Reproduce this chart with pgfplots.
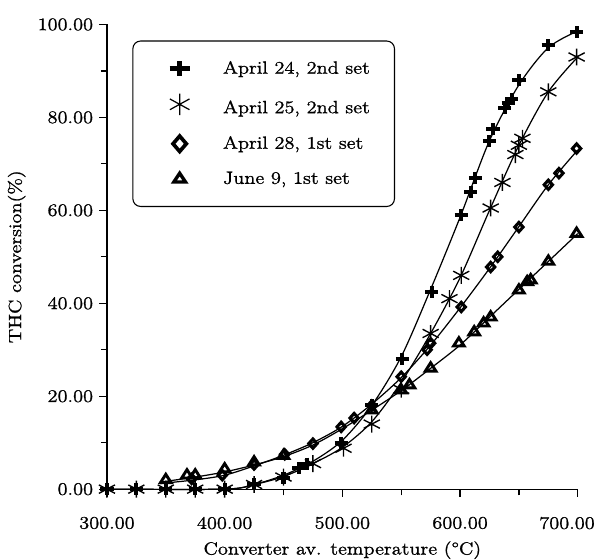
\documentclass[border=0pt]{standalone}
\usepackage{fontspec}
\setmainfont{Latin Modern Roman}[FakeStretch=1.15, FakeBold=1.2]
\usepackage{pgfplots}
\pgfplotsset{compat=1.18}
\pgfplotsset{legimg/.style={legend image code/.code={\path (0pt,0pt) (39pt,0pt); \draw[##1] plot coordinates {(12.6pt,#1)};}}}

\pgfplotstableread{
x y
300 0
325 0
350 0
375 0
400 0
425 1
450 2.5
463 4.5
470 5.5
499 10
525 18
551 28
576 42.5
601 59
609 64
613 67
625 75
628 77.5
638 82
641 83
644 84
650 88
675 95.5
699 98.3
}\aprAA
\pgfplotstableread{
x y
300 0
325 0
350 0
375 0
400 0
425 1
450 2.6
475 5.5
501 8.8
525 14
550 21.5
575 33.5
591 41
601 46
626 60.5
636 66
647 72
650 74
653 75.5
675 85.5
699 93
}\aprBB
\pgfplotstableread{
x y
372 2.2
398 3
425 5.3
451 7.5
475 9.8
499 13.4
510 15.3
525 18
550 24.2
572 30
575 31.4
601 39.2
626 47.8
632 50
650 56.4
675 65.5
684 68
699 73.3
}\aprCC
\pgfplotstableread{
x y
350 2
368 3
375 3
400 4.3
425 5.8
450 7.2
525 17
550 21.3
557 22.4
575 26
599 31.4
612 33.8
620 35.7
626 37
650 42.8
657 44.6
660 45
675 49
699 55
}\juneDD

\begin{document}
\fontsize{11.5}{13.5}\selectfont
\begin{tikzpicture}
\begin{axis}[
    scale only axis,
    width=306pt, height=302pt,
    xmin=300, xmax=700, ymin=0, ymax=100,
    axis x line=bottom, axis y line=left,
    axis line style={-, line width=0.8pt},
    xtick={300,400,...,700}, ytick={0,20,...,100},
    minor xtick={350,450,...,650}, minor ytick={10,30,...,90},
    xticklabels={300.00,400.00,500.00,600.00,\makebox[0pt]{700.00\hspace{14pt}}},
    yticklabels={0.00,20.00,40.00,60.00,80.00,100.00},
    tick align=outside, major tick length=5pt, minor tick length=4pt,
    tick style={line width=0.8pt, black},
    x tick label style={yshift=-9pt},
    xlabel={Converter av. temperature (°C)},
    ylabel={THC conversion(\%)},
    clip=false,
    legend cell align=left,
    legend style={at={(0.054,0.9655)}, anchor=north west, draw=black, line width=0.7pt,
        rounded corners=5pt, inner xsep=16pt, inner ysep=11pt, row sep=9.2pt,
        column sep=0pt, nodes={inner xsep=0pt}},
]
% legend entries
\addlegendimage{only marks, mark=+, mark size=4.9pt, line width=3.6pt, mark options={xscale=1.33, sharp corners}, legimg=0pt}
\addlegendentry{April 24, 2nd set}
\addlegendimage{only marks, mark=asterisk, mark size=7pt, line width=0.8pt, mark options={xscale=1.05, sharp corners}, legimg=2.5pt}
\addlegendentry{April 25, 2nd set}
\addlegendimage{only marks, mark=diamond, mark size=5pt, line width=2.4pt, mark options={fill=white, xscale=1.15, sharp corners}, legimg=0pt}
\addlegendentry{April 28, 1st set}
\addlegendimage{only marks, mark=triangle, mark size=3.8pt, line width=2.2pt, mark options={fill=white, xscale=1.15, sharp corners}, legimg=0pt}
\addlegendentry{June 9, 1st set}

% fitted curves
\addplot[forget plot, black, line width=0.8pt, smooth, tension=0.5] coordinates {
(300,0) (400,0) (425,1) (450,3) (475,6) (500,10.5) (525,18) (550,28.5) (575,43) (600,58.5) (625,75) (650,87) (675,95) (700,98.6)};
\addplot[forget plot, black, line width=0.8pt, smooth, tension=0.5] coordinates {
(300,0) (400,0) (425,1) (450,2.7) (475,5.5) (500,9) (525,14.5) (550,23) (575,33.5) (600,45.5) (625,60) (650,74) (675,85.5) (700,93)};
\addplot[forget plot, black, line width=0.8pt, smooth, tension=0.5] coordinates {
(345,1.2) (375,2) (400,3) (425,5) (450,7.3) (475,10) (500,13.5) (525,18.3) (550,24) (575,31) (600,39) (625,47.5) (650,56.5) (675,65.5) (700,73)};
\addplot[forget plot, black, line width=0.8pt, smooth, tension=0.5] coordinates {
(345,1.5) (375,2.6) (400,3.7) (425,5.2) (450,7) (475,9.5) (500,13) (525,17) (550,21.2) (575,26) (600,31) (625,37) (650,43) (675,49) (700,55)};

% data markers
\addplot[forget plot, only marks, mark=+, mark size=3.9pt, line width=2.6pt, mark options={xscale=1.1}] table {\aprAA};
\addplot[forget plot, only marks, mark=asterisk, mark size=5.5pt, line width=0.9pt, mark options={xscale=1.1}] table {\aprBB};
\addplot[forget plot, only marks, mark=diamond, mark size=3pt, line width=2pt, mark options={fill=white, xscale=1.2}] table {\aprCC};
\addplot[forget plot, only marks, mark=triangle, mark size=3.6pt, line width=1.9pt, mark options={fill=white, xscale=1.1}] table {\juneDD};
\end{axis}
\pgfresetboundingbox
\path[use as bounding box] (-69.5pt,-45.5pt) rectangle (318.5pt,317.9pt);
\end{tikzpicture}
\end{document}
